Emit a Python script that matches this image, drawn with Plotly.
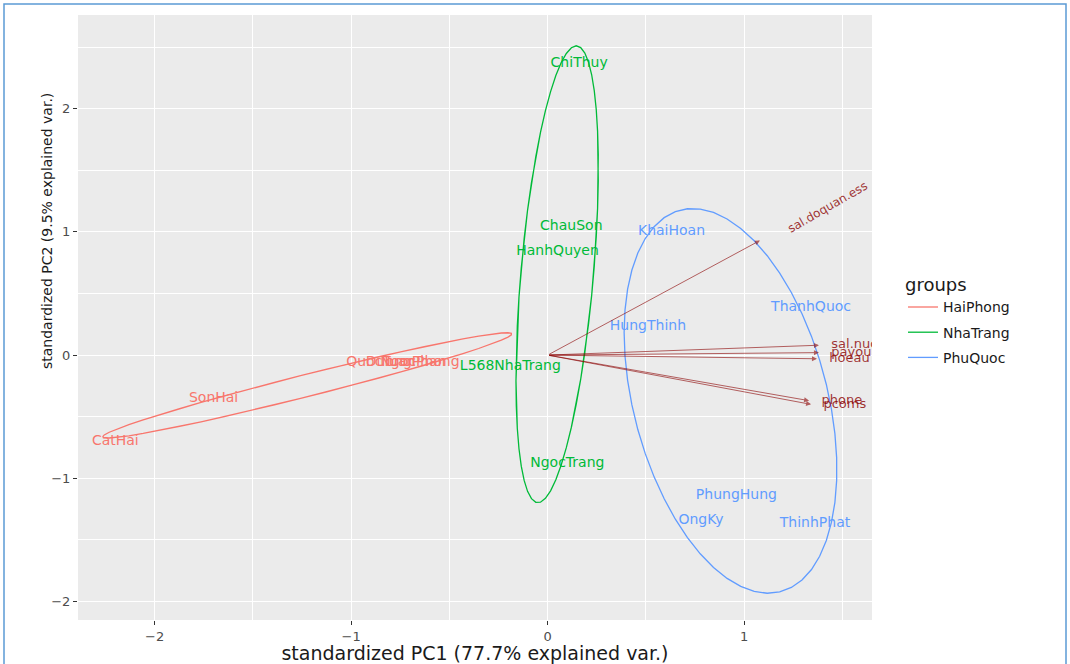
import numpy as np
import plotly.graph_objects as go

# ---------------- data ----------------
hp_labels = ["CatHai", "SonHai", "QuocTuan", "DuongPhan", "NgocPhong"]
hp_x = [-2.20, -1.70, -0.85, -0.72, -0.65]
hp_y = [-0.70, -0.35, -0.06, -0.06, -0.06]

nt_labels = ["ChiThuy", "ChauSon", "HanhQuyen", "L568NhaTrang", "NgocTrang"]
nt_x = [0.16, 0.12, 0.05, -0.19, 0.10]
nt_y = [2.37, 1.04, 0.84, -0.09, -0.88]

pq_labels = ["KhaiHoan", "ThanhQuoc", "HungThinh", "PhungHung", "OngKy", "ThinhPhat"]
pq_x = [0.63, 1.34, 0.51, 0.96, 0.78, 1.36]
pq_y = [1.00, 0.39, 0.23, -1.14, -1.34, -1.37]

var_names = ["sal.doquan.ess", "sal.nuoc", "payour", "hoeau", "phone", "pcoms"]
var_x = [1.08, 1.38, 1.38, 1.37, 1.33, 1.34]
var_y = [0.93, 0.08, 0.02, -0.03, -0.37, -0.40]

group_names = ["HaiPhong", "NhaTrang", "PhuQuoc"]
group_colors = ["#F8766D", "#00BA38", "#619CFF"]

x_title = "standardized PC1 (77.7% explained var.)"
y_title = "standardized PC2 (9.5% explained var.)"

# ---------------- layout geometry ----------------
W, H = 1070, 664
ML, MR, MT, MB = 78, 198, 15, 44
PW, PH = W - ML - MR, H - MT - MB
FONT = "DejaVu Sans"


def px2paper_x(px):
    return (px - ML) / PW


def px2paper_y(py):
    return 1 - (py - MT) / PH


def ellipse(xs, ys, prob=0.68, n=50):
    theta = np.concatenate([np.linspace(-np.pi, np.pi, n), np.linspace(np.pi, -np.pi, n)])
    circle = np.column_stack([np.cos(theta), np.sin(theta)])
    data = np.column_stack([xs, ys])
    sigma = np.cov(data, rowvar=False)
    mu = data.mean(axis=0)
    ed = np.sqrt(-2 * np.log(1 - prob))
    chol = np.linalg.cholesky(sigma).T  # upper triangular, like R's chol
    pts = circle @ chol * ed + mu
    return pts[:, 0], pts[:, 1]


fig = go.Figure()

groups = [
    (hp_labels, hp_x, hp_y),
    (nt_labels, nt_x, nt_y),
    (pq_labels, pq_x, pq_y),
]

for (labels, xs, ys), name, col in zip(groups, group_names, group_colors):
    ex, ey = ellipse(xs, ys)
    fig.add_trace(go.Scatter(
        x=ex, y=ey, mode="lines", line=dict(color=col, width=1.3),
        legendgroup=name, showlegend=True, name=name, hoverinfo="skip"))
    fig.add_trace(go.Scatter(
        x=xs, y=ys, mode="text", text=labels, textposition="middle center",
        textfont=dict(family=FONT, size=14, color=col),
        legendgroup=name, showlegend=False, name=name))

# variable arrows
arrow_col = "rgba(139,0,0,0.6)"
for vx, vy in zip(var_x, var_y):
    fig.add_annotation(
        x=vx, y=vy, ax=0, ay=0, xref="x", yref="y", axref="x", ayref="y",
        text="", showarrow=True, arrowhead=2, arrowsize=1, arrowwidth=1,
        arrowcolor=arrow_col)

# first (steep) variable label is rotated
fig.add_annotation(
    x=var_x[0], y=var_y[0], xref="x", yref="y", text=var_names[0],
    showarrow=False, textangle=-30, xshift=68, yshift=33,
    font=dict(family=FONT, size=12, color="rgba(139,0,0,0.8)"))

# remaining labels as clipped text
fig.add_trace(go.Scatter(
    x=var_x[1:], y=var_y[1:], mode="text",
    text=["   " + v for v in var_names[1:]], textposition="middle right",
    textfont=dict(family=FONT, size=13, color="rgba(139,0,0,0.8)"),
    showlegend=False, cliponaxis=True, hoverinfo="skip"))

axis_common = dict(
    showgrid=True, gridcolor="white", gridwidth=1.2, zeroline=False,
    ticks="outside", ticklen=4, tickcolor="#333333", tickwidth=1,
    tickfont=dict(family=FONT, size=13, color="#4D4D4D"),
    showline=False, dtick=1, automargin=False,
    minor=dict(dtick=0.5, showgrid=True, gridcolor="white", gridwidth=0.6, ticks=""),
)

fig.update_layout(
    width=W, height=H,
    margin=dict(l=ML, r=MR, t=MT, b=MB, autoexpand=False),
    paper_bgcolor="white", plot_bgcolor="#EBEBEB",
    font=dict(family=FONT, color="#222222"),
    xaxis=dict(range=[-2.39, 1.65], tick0=0,
               title=dict(text=x_title, font=dict(family=FONT, size=19, color="#1A1A1A"),
                          standoff=0),
               **axis_common),
    yaxis=dict(range=[-2.15, 2.76], tick0=0, **axis_common),
    legend=dict(
        x=px2paper_x(903), y=px2paper_y(268), xanchor="left", yanchor="top",
        title=dict(text="groups", font=dict(family=FONT, size=18, color="#1A1A1A")),
        font=dict(family=FONT, size=14, color="#1A1A1A"),
        bgcolor="white", tracegroupgap=4, itemwidth=30,
    ),
    showlegend=True,
)

# y-axis title (placed where the reference shows it)
fig.add_annotation(
    xref="paper", yref="paper", x=px2paper_x(37), y=px2paper_y(231),
    text=y_title, textangle=-90, showarrow=False,
    font=dict(family=FONT, size=14, color="#1A1A1A"))

# light blue frame around the whole picture
fig.add_shape(type="rect", xref="paper", yref="paper",
              x0=px2paper_x(4), x1=px2paper_x(1066),
              y0=px2paper_y(672), y1=px2paper_y(4),
              line=dict(color="#5B9BD5", width=1.5), fillcolor="rgba(0,0,0,0)")

fig.write_html("out.html", config={"displayModeBar": False},
               post_script="document.body.style.margin='0';document.body.style.overflow='hidden';")
